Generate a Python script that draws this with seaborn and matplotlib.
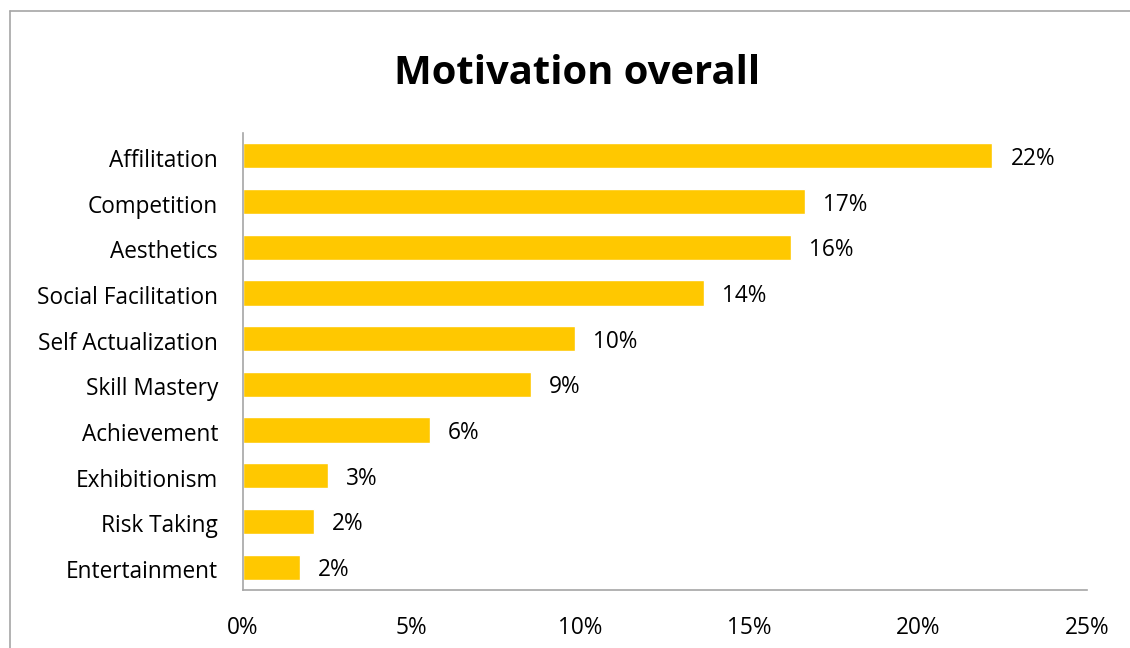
import matplotlib
matplotlib.use("Agg")
import matplotlib.pyplot as plt
import seaborn as sns
import pandas as pd
from matplotlib.lines import Line2D
from matplotlib.ticker import FuncFormatter
from matplotlib.transforms import ScaledTranslation

# Share of respondents naming each motivation (percent)
categories = [
    "Affilitation", "Competition", "Aesthetics", "Social Facilitation",
    "Self Actualization", "Skill Mastery", "Achievement", "Exhibitionism",
    "Risk Taking", "Entertainment",
]
shares = [22.2, 16.65, 16.23, 13.65, 9.83, 8.53, 5.54, 2.52, 2.10, 1.69]
x_ticks = [0, 5, 10, 15, 20, 25]

df = pd.DataFrame({"motivation": categories, "share": shares})

sns.set_theme(style="white")
plt.rcParams["font.family"] = ["Open Sans", "DejaVu Sans"]

W, H = 1130, 648
fig = plt.figure(figsize=(W / 100, H / 100), dpi=100)
ax = fig.add_axes([243 / W, 1 - 590 / H, (1087 - 243) / W, (590 - 133) / H])

sns.barplot(data=df, x="share", y="motivation", orient="h", color="#FFC800",
            saturation=1, width=0.55, ax=ax)

LABEL_SIZE = 16.3

ax.set_xlim(0, 25)
ax.set_xticks(x_ticks)
ax.xaxis.set_major_formatter(FuncFormatter(lambda v, _: f"{v:.0f}%"))
ax.set_xlabel("")
ax.set_ylabel("")
ax.tick_params(axis="both", length=0, labelsize=LABEL_SIZE, colors="black")
ax.tick_params(axis="y", pad=18)
ax.tick_params(axis="x", pad=19)

# nudge category labels slightly below the bar centre line
shift_down = ScaledTranslation(0, -2 / 100, fig.dpi_scale_trans)
for lbl in ax.get_yticklabels():
    lbl.set_transform(lbl.get_transform() + shift_down)

for side in ("top", "right"):
    ax.spines[side].set_visible(False)
for side in ("left", "bottom"):
    ax.spines[side].set_color("#a6a6a6")
    ax.spines[side].set_linewidth(1.2)

for container in ax.containers:
    texts = ax.bar_label(container, labels=[f"{v:.0f}%" for v in container.datavalues],
                         padding=13, fontsize=LABEL_SIZE, color="black")
    for t in texts:
        t.set_va("center_baseline")
        t.set_transform(t.get_transform() + ScaledTranslation(0, -3 / 100, fig.dpi_scale_trans))

fig.text(577 / W, 1 - 73 / H, "Motivation overall", ha="center", va="center",
         fontsize=28.8, fontweight="bold", color="black")

# chart area frame
fig.add_artist(Line2D([10 / W, 1], [1 - 11 / H, 1 - 11 / H], transform=fig.transFigure,
                      color="#a6a6a6", linewidth=1.2))
fig.add_artist(Line2D([10 / W, 10 / W], [1 - 11 / H, 0], transform=fig.transFigure,
                      color="#a6a6a6", linewidth=1.2))

fig.savefig("out.png", dpi=100, facecolor="white")
